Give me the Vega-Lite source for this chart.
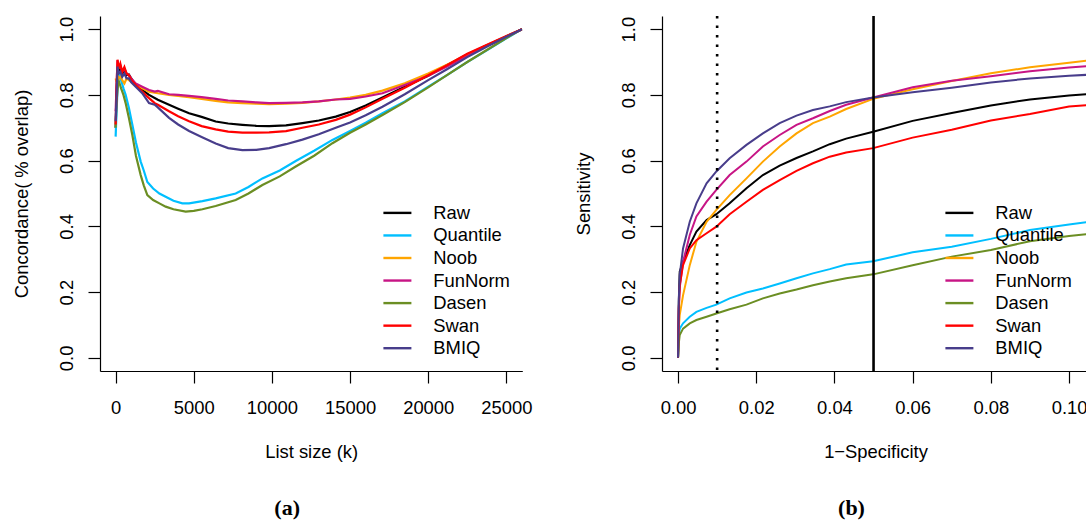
{
  "$schema": "https://vega.github.io/schema/vega-lite/v6.json",
  "padding": {"left": 12, "top": 14, "right": 0, "bottom": 0},
  "background": "white",
  "bounds": "flush",
  "spacing": 139,
  "resolve": {"legend": {"color": "independent"}},
  "config": {
    "view": {"stroke": null},
    "font": "Liberation Sans",
    "axis": {
      "grid": false, "domainColor": "#000", "domainWidth": 1.2, "tickColor": "#000", "tickWidth": 1.2, "tickSize": 12,
      "labelFont": "Liberation Sans", "labelFontSize": 18.4, "labelColor": "#000", "labelFlush": false, "labelOverlap": false,
      "titleFont": "Liberation Sans", "titleFontSize": 18.4, "titleFontWeight": "normal", "titleColor": "#000"
    },
    "axisX": {"labelBaseline": "alphabetic", "labelPadding": 30, "titleBaseline": "alphabetic", "titleY": 86},
    "axisY": {"labelAngle": 270, "labelAlign": "center", "labelBaseline": "alphabetic", "labelPadding": 15.3, "titleAngle": 270, "titleAlign": "center", "titleBaseline": "alphabetic", "titleX": -72.6, "titleY": 177.5},
    "legend": {
      "orient": "none", "legendX": 288.2, "legendY": 187.7, "title": null, "symbolType": "M-2,0H2", "symbolSize": 196, "symbolStrokeWidth": 2.4,
      "labelFont": "Liberation Sans", "labelFontSize": 18.4, "labelColor": "#000", "labelOffset": 26.7, "rowPadding": 3.55, "padding": 0
    },
    "title": {"font": "Liberation Serif", "fontSize": 22, "fontWeight": "bold", "color": "#000"}
  },
  "datasets": {
    "conc": [
      {"method":"Raw","k":0,"c":0.70},{"method":"Raw","k":60,"c":0.80},{"method":"Raw","k":120,"c":0.885},{"method":"Raw","k":200,"c":0.87},{"method":"Raw","k":300,"c":0.88},{"method":"Raw","k":420,"c":0.865},{"method":"Raw","k":560,"c":0.875},{"method":"Raw","k":700,"c":0.86},{"method":"Raw","k":850,"c":0.862},{"method":"Raw","k":1000,"c":0.85},{"method":"Raw","k":1283,"c":0.83},{"method":"Raw","k":1700,"c":0.815},{"method":"Raw","k":2138,"c":0.80},{"method":"Raw","k":2700,"c":0.785},{"method":"Raw","k":3418,"c":0.77},{"method":"Raw","k":4000,"c":0.758},{"method":"Raw","k":4699,"c":0.744},{"method":"Raw","k":5500,"c":0.733},{"method":"Raw","k":6402,"c":0.719},{"method":"Raw","k":7200,"c":0.713},{"method":"Raw","k":8111,"c":0.709},{"method":"Raw","k":9000,"c":0.706},{"method":"Raw","k":9821,"c":0.705},{"method":"Raw","k":10900,"c":0.707},{"method":"Raw","k":11952,"c":0.714},{"method":"Raw","k":13000,"c":0.722},{"method":"Raw","k":14085,"c":0.734},{"method":"Raw","k":15000,"c":0.748},{"method":"Raw","k":16000,"c":0.768},{"method":"Raw","k":17074,"c":0.792},{"method":"Raw","k":18500,"c":0.825},{"method":"Raw","k":20000,"c":0.858},{"method":"Raw","k":21200,"c":0.89},{"method":"Raw","k":22500,"c":0.923},{"method":"Raw","k":23800,"c":0.952},{"method":"Raw","k":25000,"c":0.978},{"method":"Raw","k":26000,"c":1.0},
      {"method":"Quantile","k":0,"c":0.673},{"method":"Quantile","k":60,"c":0.75},{"method":"Quantile","k":150,"c":0.85},{"method":"Quantile","k":250,"c":0.86},{"method":"Quantile","k":350,"c":0.845},{"method":"Quantile","k":500,"c":0.82},{"method":"Quantile","k":640,"c":0.80},{"method":"Quantile","k":850,"c":0.76},{"method":"Quantile","k":1069,"c":0.709},{"method":"Quantile","k":1300,"c":0.655},{"method":"Quantile","k":1604,"c":0.597},{"method":"Quantile","k":1800,"c":0.57},{"method":"Quantile","k":2029,"c":0.535},{"method":"Quantile","k":2400,"c":0.515},{"method":"Quantile","k":2800,"c":0.50},{"method":"Quantile","k":3201,"c":0.49},{"method":"Quantile","k":3700,"c":0.478},{"method":"Quantile","k":4270,"c":0.47},{"method":"Quantile","k":4700,"c":0.47},{"method":"Quantile","k":5551,"c":0.477},{"method":"Quantile","k":6402,"c":0.485},{"method":"Quantile","k":7682,"c":0.50},{"method":"Quantile","k":8500,"c":0.52},{"method":"Quantile","k":9392,"c":0.546},{"method":"Quantile","k":10500,"c":0.57},{"method":"Quantile","k":11524,"c":0.599},{"method":"Quantile","k":12700,"c":0.63},{"method":"Quantile","k":13873,"c":0.663},{"method":"Quantile","k":15000,"c":0.69},{"method":"Quantile","k":16000,"c":0.715},{"method":"Quantile","k":17074,"c":0.744},{"method":"Quantile","k":18500,"c":0.78},{"method":"Quantile","k":20000,"c":0.825},{"method":"Quantile","k":21200,"c":0.86},{"method":"Quantile","k":22500,"c":0.90},{"method":"Quantile","k":23800,"c":0.937},{"method":"Quantile","k":25000,"c":0.972},{"method":"Quantile","k":26000,"c":1.0},
      {"method":"Noob","k":0,"c":0.85},{"method":"Noob","k":60,"c":0.84},{"method":"Noob","k":120,"c":0.86},{"method":"Noob","k":200,"c":0.85},{"method":"Noob","k":300,"c":0.855},{"method":"Noob","k":420,"c":0.845},{"method":"Noob","k":560,"c":0.835},{"method":"Noob","k":700,"c":0.85},{"method":"Noob","k":850,"c":0.845},{"method":"Noob","k":1000,"c":0.84},{"method":"Noob","k":1283,"c":0.83},{"method":"Noob","k":1700,"c":0.82},{"method":"Noob","k":2138,"c":0.81},{"method":"Noob","k":2700,"c":0.805},{"method":"Noob","k":3418,"c":0.80},{"method":"Noob","k":4000,"c":0.797},{"method":"Noob","k":4699,"c":0.793},{"method":"Noob","k":5500,"c":0.788},{"method":"Noob","k":6402,"c":0.782},{"method":"Noob","k":7200,"c":0.777},{"method":"Noob","k":8111,"c":0.775},{"method":"Noob","k":9000,"c":0.773},{"method":"Noob","k":9821,"c":0.772},{"method":"Noob","k":10900,"c":0.773},{"method":"Noob","k":11952,"c":0.776},{"method":"Noob","k":13000,"c":0.78},{"method":"Noob","k":14085,"c":0.786},{"method":"Noob","k":15000,"c":0.792},{"method":"Noob","k":16000,"c":0.80},{"method":"Noob","k":17074,"c":0.813},{"method":"Noob","k":18500,"c":0.835},{"method":"Noob","k":20000,"c":0.865},{"method":"Noob","k":21200,"c":0.892},{"method":"Noob","k":22500,"c":0.922},{"method":"Noob","k":23800,"c":0.952},{"method":"Noob","k":25000,"c":0.978},{"method":"Noob","k":26000,"c":1.0},
      {"method":"FunNorm","k":0,"c":0.75},{"method":"FunNorm","k":60,"c":0.83},{"method":"FunNorm","k":120,"c":0.905},{"method":"FunNorm","k":200,"c":0.885},{"method":"FunNorm","k":300,"c":0.89},{"method":"FunNorm","k":420,"c":0.87},{"method":"FunNorm","k":560,"c":0.88},{"method":"FunNorm","k":700,"c":0.865},{"method":"FunNorm","k":850,"c":0.86},{"method":"FunNorm","k":1000,"c":0.85},{"method":"FunNorm","k":1283,"c":0.835},{"method":"FunNorm","k":1700,"c":0.825},{"method":"FunNorm","k":2138,"c":0.815},{"method":"FunNorm","k":2500,"c":0.81},{"method":"FunNorm","k":2700,"c":0.812},{"method":"FunNorm","k":3418,"c":0.802},{"method":"FunNorm","k":4000,"c":0.80},{"method":"FunNorm","k":4699,"c":0.797},{"method":"FunNorm","k":5500,"c":0.793},{"method":"FunNorm","k":6402,"c":0.788},{"method":"FunNorm","k":7200,"c":0.783},{"method":"FunNorm","k":8111,"c":0.78},{"method":"FunNorm","k":9000,"c":0.777},{"method":"FunNorm","k":9821,"c":0.775},{"method":"FunNorm","k":10900,"c":0.776},{"method":"FunNorm","k":11952,"c":0.777},{"method":"FunNorm","k":13000,"c":0.78},{"method":"FunNorm","k":14085,"c":0.786},{"method":"FunNorm","k":15000,"c":0.788},{"method":"FunNorm","k":16000,"c":0.795},{"method":"FunNorm","k":17074,"c":0.805},{"method":"FunNorm","k":18500,"c":0.83},{"method":"FunNorm","k":20000,"c":0.858},{"method":"FunNorm","k":21200,"c":0.886},{"method":"FunNorm","k":22500,"c":0.918},{"method":"FunNorm","k":23800,"c":0.95},{"method":"FunNorm","k":25000,"c":0.977},{"method":"FunNorm","k":26000,"c":1.0},
      {"method":"Dasen","k":0,"c":0.70},{"method":"Dasen","k":60,"c":0.78},{"method":"Dasen","k":150,"c":0.83},{"method":"Dasen","k":216,"c":0.84},{"method":"Dasen","k":350,"c":0.82},{"method":"Dasen","k":500,"c":0.80},{"method":"Dasen","k":640,"c":0.775},{"method":"Dasen","k":850,"c":0.73},{"method":"Dasen","k":1069,"c":0.678},{"method":"Dasen","k":1300,"c":0.615},{"method":"Dasen","k":1604,"c":0.556},{"method":"Dasen","k":1800,"c":0.525},{"method":"Dasen","k":2029,"c":0.495},{"method":"Dasen","k":2400,"c":0.48},{"method":"Dasen","k":2800,"c":0.47},{"method":"Dasen","k":3201,"c":0.46},{"method":"Dasen","k":3700,"c":0.452},{"method":"Dasen","k":4481,"c":0.445},{"method":"Dasen","k":5000,"c":0.447},{"method":"Dasen","k":5551,"c":0.452},{"method":"Dasen","k":6402,"c":0.462},{"method":"Dasen","k":7682,"c":0.48},{"method":"Dasen","k":8500,"c":0.50},{"method":"Dasen","k":9392,"c":0.526},{"method":"Dasen","k":10500,"c":0.552},{"method":"Dasen","k":11524,"c":0.582},{"method":"Dasen","k":12700,"c":0.615},{"method":"Dasen","k":13873,"c":0.653},{"method":"Dasen","k":15000,"c":0.685},{"method":"Dasen","k":16000,"c":0.71},{"method":"Dasen","k":17074,"c":0.739},{"method":"Dasen","k":18500,"c":0.778},{"method":"Dasen","k":20000,"c":0.823},{"method":"Dasen","k":21200,"c":0.86},{"method":"Dasen","k":22500,"c":0.90},{"method":"Dasen","k":23800,"c":0.938},{"method":"Dasen","k":25000,"c":0.973},{"method":"Dasen","k":26000,"c":1.0},
      {"method":"Swan","k":0,"c":0.71},{"method":"Swan","k":60,"c":0.82},{"method":"Swan","k":120,"c":0.907},{"method":"Swan","k":200,"c":0.88},{"method":"Swan","k":300,"c":0.895},{"method":"Swan","k":420,"c":0.87},{"method":"Swan","k":560,"c":0.885},{"method":"Swan","k":700,"c":0.865},{"method":"Swan","k":850,"c":0.86},{"method":"Swan","k":1000,"c":0.845},{"method":"Swan","k":1283,"c":0.83},{"method":"Swan","k":1700,"c":0.81},{"method":"Swan","k":2138,"c":0.79},{"method":"Swan","k":2500,"c":0.775},{"method":"Swan","k":2700,"c":0.77},{"method":"Swan","k":3418,"c":0.75},{"method":"Swan","k":4000,"c":0.735},{"method":"Swan","k":4699,"c":0.72},{"method":"Swan","k":5500,"c":0.705},{"method":"Swan","k":6402,"c":0.695},{"method":"Swan","k":7200,"c":0.688},{"method":"Swan","k":8111,"c":0.685},{"method":"Swan","k":9000,"c":0.685},{"method":"Swan","k":9821,"c":0.686},{"method":"Swan","k":10900,"c":0.69},{"method":"Swan","k":11952,"c":0.70},{"method":"Swan","k":13000,"c":0.71},{"method":"Swan","k":14085,"c":0.724},{"method":"Swan","k":15000,"c":0.74},{"method":"Swan","k":16000,"c":0.762},{"method":"Swan","k":17074,"c":0.788},{"method":"Swan","k":18500,"c":0.822},{"method":"Swan","k":20000,"c":0.86},{"method":"Swan","k":21200,"c":0.89},{"method":"Swan","k":22500,"c":0.925},{"method":"Swan","k":23800,"c":0.953},{"method":"Swan","k":25000,"c":0.979},{"method":"Swan","k":26000,"c":1.0},
      {"method":"BMIQ","k":0,"c":0.72},{"method":"BMIQ","k":60,"c":0.80},{"method":"BMIQ","k":120,"c":0.886},{"method":"BMIQ","k":200,"c":0.865},{"method":"BMIQ","k":300,"c":0.87},{"method":"BMIQ","k":420,"c":0.855},{"method":"BMIQ","k":560,"c":0.865},{"method":"BMIQ","k":700,"c":0.85},{"method":"BMIQ","k":850,"c":0.85},{"method":"BMIQ","k":1000,"c":0.838},{"method":"BMIQ","k":1283,"c":0.825},{"method":"BMIQ","k":1700,"c":0.805},{"method":"BMIQ","k":2138,"c":0.775},{"method":"BMIQ","k":2500,"c":0.77},{"method":"BMIQ","k":2700,"c":0.762},{"method":"BMIQ","k":3418,"c":0.73},{"method":"BMIQ","k":4000,"c":0.71},{"method":"BMIQ","k":4699,"c":0.69},{"method":"BMIQ","k":5500,"c":0.672},{"method":"BMIQ","k":6402,"c":0.652},{"method":"BMIQ","k":7200,"c":0.638},{"method":"BMIQ","k":8111,"c":0.632},{"method":"BMIQ","k":9000,"c":0.633},{"method":"BMIQ","k":9821,"c":0.638},{"method":"BMIQ","k":10900,"c":0.65},{"method":"BMIQ","k":11952,"c":0.664},{"method":"BMIQ","k":13000,"c":0.68},{"method":"BMIQ","k":14085,"c":0.70},{"method":"BMIQ","k":15000,"c":0.716},{"method":"BMIQ","k":16000,"c":0.738},{"method":"BMIQ","k":17074,"c":0.764},{"method":"BMIQ","k":18500,"c":0.802},{"method":"BMIQ","k":20000,"c":0.845},{"method":"BMIQ","k":21200,"c":0.878},{"method":"BMIQ","k":22500,"c":0.915},{"method":"BMIQ","k":23800,"c":0.948},{"method":"BMIQ","k":25000,"c":0.977},{"method":"BMIQ","k":26000,"c":1.0}
    ],
    "roc": [
      {"method":"Raw","fpr":0,"s":0},{"method":"Raw","fpr":0.0002,"s":0.17},{"method":"Raw","fpr":0.00043,"s":0.262},{"method":"Raw","fpr":0.00128,"s":0.292},{"method":"Raw","fpr":0.003,"s":0.343},{"method":"Raw","fpr":0.0047,"s":0.384},{"method":"Raw","fpr":0.0073,"s":0.419},{"method":"Raw","fpr":0.0098,"s":0.437},{"method":"Raw","fpr":0.0132,"s":0.47},{"method":"Raw","fpr":0.0175,"s":0.516},{"method":"Raw","fpr":0.0217,"s":0.556},{"method":"Raw","fpr":0.026,"s":0.585},{"method":"Raw","fpr":0.0303,"s":0.608},{"method":"Raw","fpr":0.0345,"s":0.628},{"method":"Raw","fpr":0.0388,"s":0.65},{"method":"Raw","fpr":0.043,"s":0.667},{"method":"Raw","fpr":0.0499,"s":0.688},{"method":"Raw","fpr":0.06,"s":0.721},{"method":"Raw","fpr":0.07,"s":0.745},{"method":"Raw","fpr":0.08,"s":0.768},{"method":"Raw","fpr":0.09,"s":0.786},{"method":"Raw","fpr":0.1,"s":0.798},{"method":"Raw","fpr":0.106,"s":0.803},
      {"method":"Quantile","fpr":0,"s":0},{"method":"Quantile","fpr":0.0002,"s":0.06},{"method":"Quantile","fpr":0.00043,"s":0.089},{"method":"Quantile","fpr":0.00128,"s":0.105},{"method":"Quantile","fpr":0.003,"s":0.125},{"method":"Quantile","fpr":0.0047,"s":0.14},{"method":"Quantile","fpr":0.0073,"s":0.152},{"method":"Quantile","fpr":0.0098,"s":0.162},{"method":"Quantile","fpr":0.0132,"s":0.181},{"method":"Quantile","fpr":0.0175,"s":0.199},{"method":"Quantile","fpr":0.0217,"s":0.211},{"method":"Quantile","fpr":0.026,"s":0.226},{"method":"Quantile","fpr":0.0303,"s":0.242},{"method":"Quantile","fpr":0.0345,"s":0.257},{"method":"Quantile","fpr":0.0388,"s":0.27},{"method":"Quantile","fpr":0.043,"s":0.284},{"method":"Quantile","fpr":0.0499,"s":0.294},{"method":"Quantile","fpr":0.06,"s":0.321},{"method":"Quantile","fpr":0.07,"s":0.338},{"method":"Quantile","fpr":0.08,"s":0.362},{"method":"Quantile","fpr":0.09,"s":0.389},{"method":"Quantile","fpr":0.1,"s":0.406},{"method":"Quantile","fpr":0.106,"s":0.415},
      {"method":"Noob","fpr":0,"s":0},{"method":"Noob","fpr":0.0002,"s":0.09},{"method":"Noob","fpr":0.00043,"s":0.13},{"method":"Noob","fpr":0.00128,"s":0.19},{"method":"Noob","fpr":0.003,"s":0.282},{"method":"Noob","fpr":0.0047,"s":0.353},{"method":"Noob","fpr":0.0073,"s":0.414},{"method":"Noob","fpr":0.0098,"s":0.45},{"method":"Noob","fpr":0.0132,"s":0.495},{"method":"Noob","fpr":0.0175,"s":0.546},{"method":"Noob","fpr":0.0217,"s":0.597},{"method":"Noob","fpr":0.026,"s":0.643},{"method":"Noob","fpr":0.0303,"s":0.683},{"method":"Noob","fpr":0.0345,"s":0.714},{"method":"Noob","fpr":0.0388,"s":0.734},{"method":"Noob","fpr":0.043,"s":0.757},{"method":"Noob","fpr":0.0499,"s":0.788},{"method":"Noob","fpr":0.06,"s":0.817},{"method":"Noob","fpr":0.07,"s":0.842},{"method":"Noob","fpr":0.08,"s":0.866},{"method":"Noob","fpr":0.09,"s":0.884},{"method":"Noob","fpr":0.1,"s":0.898},{"method":"Noob","fpr":0.106,"s":0.906},
      {"method":"FunNorm","fpr":0,"s":0},{"method":"FunNorm","fpr":0.0002,"s":0.15},{"method":"FunNorm","fpr":0.00043,"s":0.213},{"method":"FunNorm","fpr":0.00128,"s":0.292},{"method":"FunNorm","fpr":0.003,"s":0.374},{"method":"FunNorm","fpr":0.0047,"s":0.43},{"method":"FunNorm","fpr":0.0073,"s":0.475},{"method":"FunNorm","fpr":0.0098,"s":0.511},{"method":"FunNorm","fpr":0.0132,"s":0.556},{"method":"FunNorm","fpr":0.0175,"s":0.597},{"method":"FunNorm","fpr":0.0217,"s":0.643},{"method":"FunNorm","fpr":0.026,"s":0.678},{"method":"FunNorm","fpr":0.0303,"s":0.709},{"method":"FunNorm","fpr":0.0345,"s":0.729},{"method":"FunNorm","fpr":0.0388,"s":0.751},{"method":"FunNorm","fpr":0.043,"s":0.77},{"method":"FunNorm","fpr":0.0499,"s":0.792},{"method":"FunNorm","fpr":0.06,"s":0.823},{"method":"FunNorm","fpr":0.07,"s":0.843},{"method":"FunNorm","fpr":0.08,"s":0.857},{"method":"FunNorm","fpr":0.09,"s":0.872},{"method":"FunNorm","fpr":0.1,"s":0.883},{"method":"FunNorm","fpr":0.106,"s":0.889},
      {"method":"Dasen","fpr":0,"s":0},{"method":"Dasen","fpr":0.0002,"s":0.045},{"method":"Dasen","fpr":0.00043,"s":0.069},{"method":"Dasen","fpr":0.00128,"s":0.089},{"method":"Dasen","fpr":0.003,"s":0.105},{"method":"Dasen","fpr":0.0047,"s":0.115},{"method":"Dasen","fpr":0.0073,"s":0.125},{"method":"Dasen","fpr":0.0098,"s":0.135},{"method":"Dasen","fpr":0.0132,"s":0.148},{"method":"Dasen","fpr":0.0175,"s":0.162},{"method":"Dasen","fpr":0.0217,"s":0.181},{"method":"Dasen","fpr":0.026,"s":0.196},{"method":"Dasen","fpr":0.0303,"s":0.208},{"method":"Dasen","fpr":0.0345,"s":0.221},{"method":"Dasen","fpr":0.0388,"s":0.232},{"method":"Dasen","fpr":0.043,"s":0.242},{"method":"Dasen","fpr":0.0499,"s":0.254},{"method":"Dasen","fpr":0.06,"s":0.282},{"method":"Dasen","fpr":0.07,"s":0.308},{"method":"Dasen","fpr":0.08,"s":0.328},{"method":"Dasen","fpr":0.09,"s":0.355},{"method":"Dasen","fpr":0.1,"s":0.371},{"method":"Dasen","fpr":0.106,"s":0.378},
      {"method":"Swan","fpr":0,"s":0},{"method":"Swan","fpr":0.0002,"s":0.15},{"method":"Swan","fpr":0.00043,"s":0.221},{"method":"Swan","fpr":0.00128,"s":0.282},{"method":"Swan","fpr":0.003,"s":0.333},{"method":"Swan","fpr":0.0047,"s":0.358},{"method":"Swan","fpr":0.0073,"s":0.379},{"method":"Swan","fpr":0.0098,"s":0.399},{"method":"Swan","fpr":0.0132,"s":0.437},{"method":"Swan","fpr":0.0175,"s":0.475},{"method":"Swan","fpr":0.0217,"s":0.511},{"method":"Swan","fpr":0.026,"s":0.541},{"method":"Swan","fpr":0.0303,"s":0.569},{"method":"Swan","fpr":0.0345,"s":0.592},{"method":"Swan","fpr":0.0388,"s":0.612},{"method":"Swan","fpr":0.043,"s":0.625},{"method":"Swan","fpr":0.0499,"s":0.638},{"method":"Swan","fpr":0.06,"s":0.67},{"method":"Swan","fpr":0.07,"s":0.694},{"method":"Swan","fpr":0.08,"s":0.722},{"method":"Swan","fpr":0.09,"s":0.742},{"method":"Swan","fpr":0.1,"s":0.765},{"method":"Swan","fpr":0.106,"s":0.77},
      {"method":"BMIQ","fpr":0,"s":0},{"method":"BMIQ","fpr":0.0002,"s":0.18},{"method":"BMIQ","fpr":0.00043,"s":0.252},{"method":"BMIQ","fpr":0.00128,"s":0.333},{"method":"BMIQ","fpr":0.003,"s":0.414},{"method":"BMIQ","fpr":0.0047,"s":0.47},{"method":"BMIQ","fpr":0.0073,"s":0.531},{"method":"BMIQ","fpr":0.0098,"s":0.567},{"method":"BMIQ","fpr":0.0132,"s":0.607},{"method":"BMIQ","fpr":0.0175,"s":0.648},{"method":"BMIQ","fpr":0.0217,"s":0.683},{"method":"BMIQ","fpr":0.026,"s":0.714},{"method":"BMIQ","fpr":0.0303,"s":0.737},{"method":"BMIQ","fpr":0.0345,"s":0.754},{"method":"BMIQ","fpr":0.0388,"s":0.765},{"method":"BMIQ","fpr":0.043,"s":0.778},{"method":"BMIQ","fpr":0.0499,"s":0.792},{"method":"BMIQ","fpr":0.06,"s":0.808},{"method":"BMIQ","fpr":0.07,"s":0.822},{"method":"BMIQ","fpr":0.08,"s":0.838},{"method":"BMIQ","fpr":0.09,"s":0.85},{"method":"BMIQ","fpr":0.1,"s":0.858},{"method":"BMIQ","fpr":0.106,"s":0.862}
    ]
  },
  "hconcat": [
    {
      "width": 422.3,
      "height": 355,
      "title": {"text": "(a)", "orient": "bottom", "anchor": "middle", "frame": "group", "baseline": "alphabetic", "offset": 55, "dx": -24},
      "data": {"name": "conc"},
      "mark": {"type": "line", "strokeWidth": 2.2, "clip": true},
      "encoding": {
        "x": {"field": "k", "type": "quantitative", "scale": {"domain": [-1000, 26020], "nice": false, "zero": false},
              "axis": {"values": [0, 5000, 10000, 15000, 20000, 25000], "format": "d", "title": "List size (k)"}},
        "y": {"field": "c", "type": "quantitative", "scale": {"domain": [-0.04, 1.04], "nice": false, "zero": false},
              "axis": {"values": [0, 0.2, 0.4, 0.6, 0.8, 1.0], "format": ".1f", "title": "Concordance( % overlap)"}},
        "color": {"field": "method", "type": "nominal",
                  "scale": {"domain": ["Raw", "Quantile", "Noob", "FunNorm", "Dasen", "Swan", "BMIQ"],
                            "range": ["#000000", "#00BFFF", "#FFA500", "#C71585", "#6B8E23", "#FF0000", "#483D8B"]}}
      }
    },
    {
      "width": 427,
      "height": 355,
      "title": {"text": "(b)", "orient": "bottom", "anchor": "middle", "frame": "group", "baseline": "alphabetic", "offset": 55, "dx": -24},
      "encoding": {
        "x": {"field": "fpr", "type": "quantitative", "scale": {"domain": [-0.0041, 0.1051], "nice": false, "zero": false},
              "axis": {"values": [0, 0.02, 0.04, 0.06, 0.08, 0.1], "format": ".2f", "title": "1\u2212Specificity"}}
      },
      "layer": [
        {
          "data": {"name": "roc"},
          "mark": {"type": "line", "strokeWidth": 2, "clip": true},
          "encoding": {
            "y": {"field": "s", "type": "quantitative", "scale": {"domain": [-0.04, 1.04], "nice": false, "zero": false},
                  "axis": {"values": [0, 0.2, 0.4, 0.6, 0.8, 1.0], "format": ".1f", "title": "Sensitivity"}},
            "color": {"field": "method", "type": "nominal",
                      "scale": {"domain": ["Raw", "Quantile", "Noob", "FunNorm", "Dasen", "Swan", "BMIQ"],
                                "range": ["#000000", "#00BFFF", "#FFA500", "#C71585", "#6B8E23", "#FF0000", "#483D8B"]}}
          }
        },
        {
          "data": {"values": [{"fpr": 0.01}]},
          "mark": {"type": "rule", "color": "#000", "strokeWidth": 2.6, "strokeDash": [2.6, 6.9]},
          "encoding": {}
        },
        {
          "data": {"values": [{"fpr": 0.05}]},
          "mark": {"type": "rule", "color": "#000", "strokeWidth": 2.6},
          "encoding": {}
        }
      ]
    }
  ]
}
